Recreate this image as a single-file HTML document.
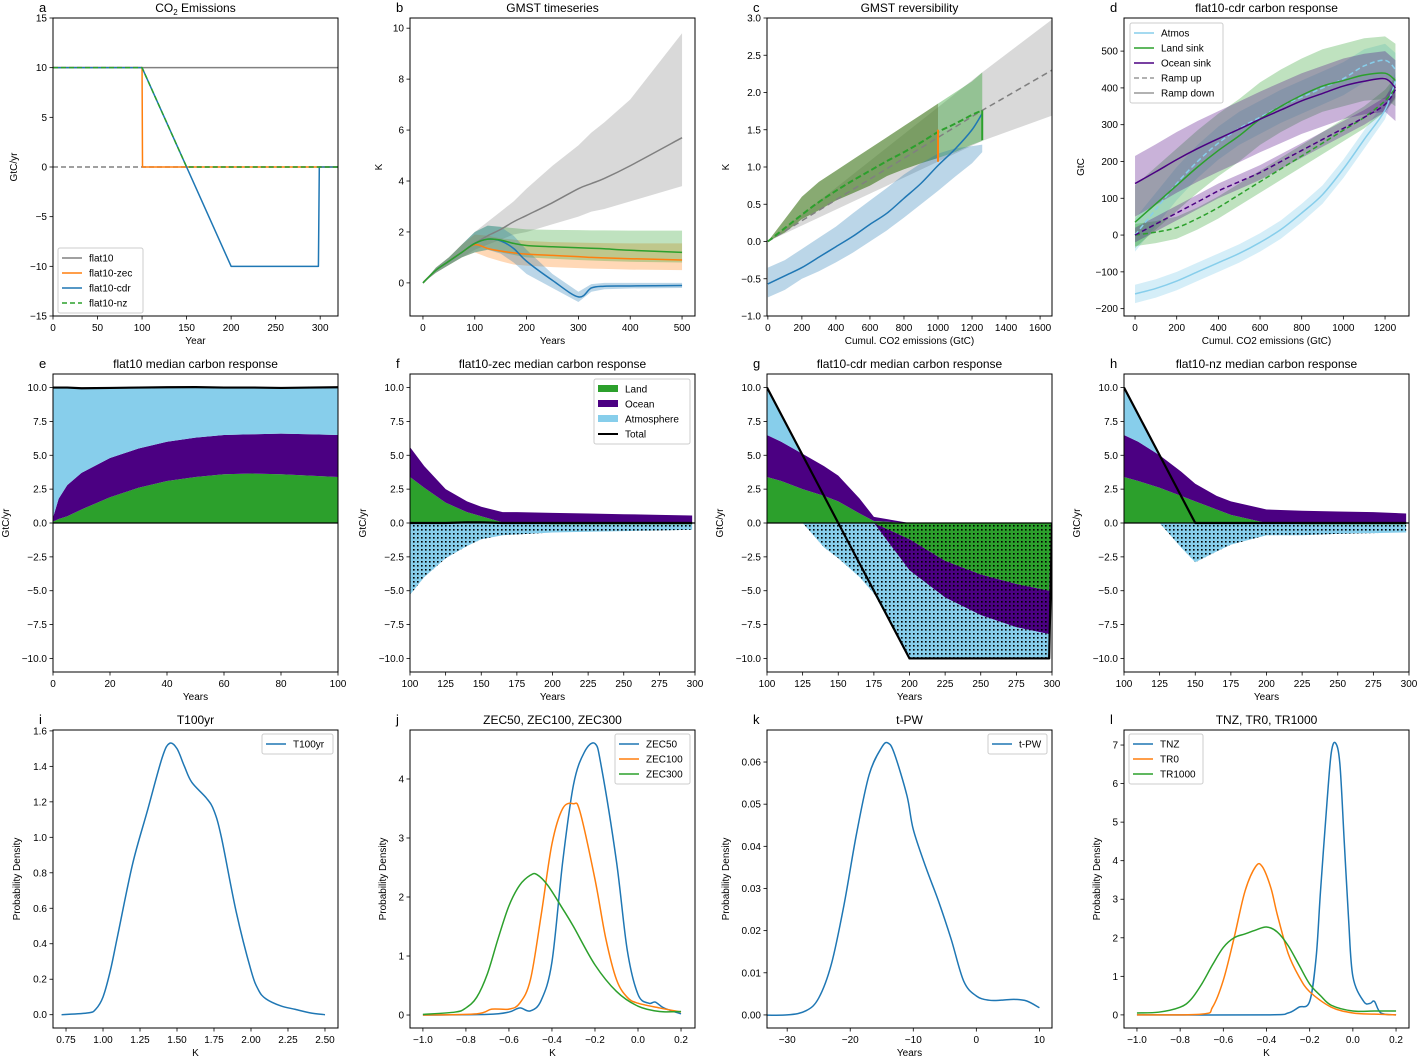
<!DOCTYPE html>
<html><head><meta charset="utf-8">
<style>
html,body{margin:0;padding:0;background:#fff;}
svg{display:block;font-family:"Liberation Sans","DejaVu Sans",sans-serif;}
</style></head>
<body>
<svg id="fig" width="1419" height="1056" viewBox="0 0 1419 1056" xmlns="http://www.w3.org/2000/svg">
<defs>
<pattern id="dots" width="4" height="4" patternUnits="userSpaceOnUse">
<rect x="1" y="1" width="1.6" height="1.6" fill="#000"/>
</pattern>
</defs>
</svg>
<script>
// ---------- data ----------
// a
const aZecX=[0,100,100.5,320], aZecY=[10,10,0,0];
const aCdrX=[0,100,200,298,299,320], aCdrY=[10,10,-10,-10,0,0];
const aNzX=[0,100,150,320], aNzY=[10,10,0,0];
const aFlatX=[0,320], aFlatY=[10,10];
// b
const bYears=[0,25,50,75,100,125,150,175,200,250,300,325,350,400,500];
const bFlatMed=[0,0.5,0.85,1.2,1.55,1.85,2.1,2.4,2.65,3.15,3.7,3.9,4.1,4.6,5.7];
const bFlatHi=[0,0.6,1.0,1.5,2.0,2.4,2.8,3.2,3.7,4.6,5.4,5.9,6.3,7.2,9.8];
const bFlatLo=[0,0.4,0.7,1.0,1.3,1.5,1.7,1.9,2.0,2.3,2.6,2.8,2.9,3.2,3.8];
const bZecMed=[0,0.5,0.85,1.2,1.5,1.35,1.25,1.18,1.13,1.08,1.03,1.0,0.98,0.95,0.9];
const bZecHi=[0,0.6,1.0,1.5,1.9,1.85,1.75,1.7,1.65,1.6,1.58,1.57,1.56,1.55,1.55];
const bZecLo=[0,0.4,0.7,1.0,1.2,1.0,0.85,0.72,0.68,0.62,0.58,0.56,0.55,0.52,0.5];
const bNzMed=[0,0.5,0.85,1.2,1.55,1.72,1.68,1.55,1.47,1.42,1.38,1.36,1.34,1.28,1.2];
const bNzHi=[0,0.6,1.0,1.5,2.0,2.25,2.2,2.15,2.1,2.08,2.07,2.06,2.06,2.05,2.05];
const bNzLo=[0,0.4,0.7,1.0,1.2,1.3,1.2,1.1,1.0,0.95,0.9,0.88,0.86,0.83,0.8];
const bCdrMed=[0,0.5,0.85,1.2,1.55,1.72,1.65,1.35,0.85,0.1,-0.55,-0.2,-0.13,-0.12,-0.1];
const bCdrHi=[0,0.6,1.0,1.5,2.0,2.25,2.2,1.85,1.3,0.35,-0.35,-0.05,0,0,0];
const bCdrLo=[0,0.4,0.7,1.0,1.2,1.3,1.15,0.8,0.35,-0.2,-0.75,-0.35,-0.25,-0.22,-0.2];
// c
const cUpX=[0,100,200,300,400,500,600,700,800,900,1000,1100,1200,1260];
const cUpMed=[0,0.18,0.36,0.53,0.68,0.82,0.95,1.08,1.2,1.33,1.47,1.58,1.7,1.76];
const cUpHi=[0,0.3,0.6,0.8,0.95,1.1,1.25,1.4,1.55,1.7,1.85,2.0,2.15,2.27];
const cUpLo=[0,0.12,0.3,0.42,0.55,0.65,0.75,0.88,0.97,1.05,1.12,1.2,1.3,1.35];
const cFlatX=[0,1260,1670], cFlatMed=[0,1.76,2.3], cFlatHi=[0,2.27,2.98], cFlatLo=[0,1.35,1.69];
const cDnX=[0,100,200,300,400,500,600,700,800,900,1000,1100,1200,1260];
const cDnMed=[-0.57,-0.46,-0.35,-0.21,-0.07,0.07,0.23,0.38,0.58,0.78,1.02,1.24,1.5,1.72];
const cDnHi=[-0.35,-0.25,-0.1,0.05,0.2,0.38,0.55,0.72,0.9,1.05,1.18,1.25,1.28,1.3];
const cDnLo=[-0.75,-0.65,-0.5,-0.4,-0.28,-0.15,0.0,0.15,0.32,0.5,0.68,0.87,1.05,1.2];
const cZecX=[1000,1000], cZecY=[1.5,1.07];
const cNzX=[1260,1260], cNzY=[1.76,1.36];
// d
const dUpX=[0,100,200,300,400,500,600,700,800,900,1000,1100,1200,1250];
const dAtmUp=[0,70,140,200,250,290,320,350,375,400,425,460,475,450];
const dLandUp=[0,8,20,45,75,110,145,180,215,250,285,320,365,400];
const dOceanUp=[0,30,60,90,120,145,170,200,230,260,290,320,355,395];
const dDnX=[0,100,200,300,400,500,600,700,800,900,1000,1100,1200,1250];
const dAtmDn=[-160,-145,-125,-100,-75,-50,-20,15,60,110,180,260,340,420];
const dLandDn=[35,85,135,185,230,270,315,350,380,405,420,435,440,420];
const dOceanDn=[140,172,205,235,262,288,315,340,365,385,405,418,425,400];
// e-h stacked
const eX=[0,2,5,10,20,30,40,50,60,70,80,90,100];
const eLand=[0.1,0.3,0.5,1.0,1.9,2.6,3.1,3.4,3.6,3.65,3.6,3.5,3.4];
const eOcean=[0.3,1.5,2.3,2.7,2.9,2.9,2.9,2.9,2.9,2.9,3.0,3.05,3.1];
const eAtm=[9.6,8.2,7.2,6.3,5.2,4.5,4.0,3.7,3.5,3.45,3.4,3.45,3.5];
const eTot=[10,10,10,9.95,9.97,10,10.02,10.03,10,10,9.97,10,10.02];
const fghX=[100,110,125,140,150,165,175,200,225,250,275,298];
const fLand=[3.4,2.6,1.5,0.8,0.5,0.05,-0.05,-0.1,-0.1,-0.1,-0.1,-0.1];
const fOcean=[2.2,1.6,1.0,0.8,0.7,0.75,0.8,0.75,0.7,0.65,0.6,0.55];
const fAtm=[-5.3,-4.0,-2.6,-1.7,-1.2,-0.9,-0.8,-0.6,-0.55,-0.5,-0.45,-0.4];
const fTot=[0,0,0,0.05,0.05,0,0,0,0,0,0,0];
const gX=[100,110,125,140,150,165,175,200,225,250,275,298,300];
const gLand=[3.4,3.1,2.5,2.0,1.6,0.7,0.15,-1.2,-2.8,-3.8,-4.5,-5.0,0];
const gOcean=[3.1,2.9,2.6,2.2,1.9,1.1,0.3,-2.3,-2.7,-3.0,-3.2,-3.2,0];
const gAtm=[3.5,2.0,0,-1.8,-2.6,-4.0,-5.2,-6.5,-4.5,-3.2,-2.3,-1.8,0];
const gTot=[10,8,5,2,0,-3,-5,-10,-10,-10,-10,-10,0];
const hLand=[3.4,3.1,2.6,2.0,1.6,1.0,0.6,0,-0.1,-0.1,-0.1,-0.1];
const hOcean=[3.1,2.9,2.4,1.8,1.3,1.0,1.0,1.0,0.9,0.85,0.8,0.7];
const hAtm=[3.5,2.0,0,-1.8,-2.9,-2.1,-1.6,-0.9,-0.8,-0.7,-0.65,-0.6];
const hTot=[10,8,5,2,0,0,0,0,0,0,0,0];
// i-l densities
const iX=[0.72,0.9,0.95,1.0,1.05,1.1,1.2,1.3,1.4,1.45,1.5,1.55,1.6,1.7,1.75,1.8,1.9,2.0,2.05,2.1,2.2,2.3,2.4,2.5];
const iY=[0,0.01,0.03,0.1,0.25,0.45,0.85,1.15,1.45,1.53,1.5,1.4,1.31,1.22,1.15,1.0,0.58,0.25,0.14,0.09,0.05,0.03,0.01,0.0];
const j50X=[-1,-0.7,-0.6,-0.55,-0.5,-0.45,-0.4,-0.35,-0.3,-0.25,-0.2,-0.17,-0.1,-0.05,0,0.05,0.08,0.12,0.2];
const j50Y=[0,0.01,0.05,0.12,0.07,0.25,0.9,2.6,3.9,4.45,4.6,4.2,2.6,1.1,0.35,0.2,0.22,0.12,0.02];
const j100X=[-1,-0.75,-0.68,-0.6,-0.55,-0.5,-0.45,-0.4,-0.35,-0.3,-0.27,-0.2,-0.15,-0.1,-0.05,0,0.1,0.2];
const j100Y=[0,0.02,0.1,0.1,0.2,0.6,1.7,2.9,3.5,3.58,3.45,2.3,1.3,0.6,0.3,0.2,0.12,0.05];
const j300X=[-1,-0.85,-0.8,-0.75,-0.7,-0.65,-0.6,-0.55,-0.5,-0.47,-0.42,-0.35,-0.3,-0.2,-0.1,0,0.1,0.2];
const j300Y=[0.01,0.05,0.12,0.3,0.7,1.3,1.85,2.2,2.37,2.38,2.2,1.8,1.5,0.85,0.4,0.15,0.06,0.06];
const kX=[-35,-30,-27,-25,-23,-21,-19,-17,-15,-14,-13,-11,-10,-8,-6,-4,-2,0,2,4,6,8,10];
const kY=[0,0,0.001,0.004,0.012,0.026,0.043,0.057,0.0635,0.0645,0.062,0.052,0.044,0.035,0.027,0.018,0.008,0.0045,0.0035,0.0035,0.0037,0.0033,0.0017];
const lNzX=[-1,-0.4,-0.3,-0.25,-0.2,-0.17,-0.15,-0.12,-0.1,-0.08,-0.06,-0.04,-0.02,0,0.05,0.08,0.1,0.13,0.2];
const lNzY=[0,0,0.05,0.2,0.35,1.5,3.2,5.5,6.8,7.05,6.5,4.5,2.5,1.0,0.35,0.3,0.35,0.05,0];
const lR0X=[-1,-0.7,-0.65,-0.6,-0.55,-0.5,-0.45,-0.42,-0.38,-0.35,-0.3,-0.25,-0.2,-0.1,0,0.1,0.2];
const lR0Y=[0,0.02,0.2,0.9,2.0,3.2,3.85,3.85,3.3,2.6,1.6,1.0,0.6,0.2,0.05,0.02,0];
const lR1X=[-1,-0.9,-0.8,-0.75,-0.7,-0.65,-0.6,-0.55,-0.5,-0.45,-0.4,-0.35,-0.3,-0.25,-0.2,-0.15,-0.1,0,0.1,0.2];
const lR1Y=[0.05,0.07,0.2,0.4,0.8,1.3,1.75,2.0,2.1,2.2,2.28,2.15,1.8,1.3,0.8,0.5,0.25,0.1,0.1,0.1];

// ---------- helpers ----------
const NS='http://www.w3.org/2000/svg';
const fig=document.getElementById('fig');
function mk(tag,name,parent,attrs){
  const e=document.createElementNS(NS,tag);
  
  
  for(const k in attrs) e.setAttribute(k,attrs[k]);
  (parent||fig).appendChild(e);
  return e;
}
const C0='#1f77b4',C1='#ff7f0e',C2='#2ca02c',IND='#4b0082',SKY='#87ceeb',GR='#808080';
function fmt(v,d){const s=Math.abs(v).toFixed(d);return (v<-1e-9?'\u2212':'')+s;}
function smoothPath(pts){
  let d='M'+pts[0][0].toFixed(2)+','+pts[0][1].toFixed(2);
  for(let i=0;i<pts.length-1;i++){
    const p0=pts[Math.max(i-1,0)],p1=pts[i],p2=pts[i+1],p3=pts[Math.min(i+2,pts.length-1)];
    const t=1/6;
    const c1=[p1[0]+(p2[0]-p0[0])*t,p1[1]+(p2[1]-p0[1])*t];
    const c2=[p2[0]-(p3[0]-p1[0])*t,p2[1]-(p3[1]-p1[1])*t];
    d+='C'+c1.map(v=>v.toFixed(2)).join(',')+' '+c2.map(v=>v.toFixed(2)).join(',')+' '+p2[0].toFixed(2)+','+p2[1].toFixed(2);
  }
  return d;
}
function panel(o){
  const W=285,H=298;
  const x=v=>o.x0+(v-o.xd[0])/(o.xd[1]-o.xd[0])*W;
  const y=v=>o.y0+H-(v-o.yd[0])/(o.yd[1]-o.yd[0])*H;
  const g=mk('g','panel-'+o.id,fig,{});
  const clipId='clip-'+o.id;
  const cp=mk('clipPath','clip-'+o.id,g,{id:clipId});
  mk('rect','clip-rect',cp,{x:o.x0,y:o.y0,width:W,height:H});
  const plot=mk('g','plot-area-'+o.id,g,{'clip-path':'url(#'+clipId+')'});
  const P={x,y,g,plot,o};
  P.finish=function(){
    mk('rect','axes-frame',g,{x:o.x0,y:o.y0,width:W,height:H,fill:'none',stroke:'#000','stroke-width':1});
    o.xt.forEach(v=>{const px=x(v);
      mk('line','x-tick',g,{x1:px,x2:px,y1:o.y0+H,y2:o.y0+H+3.5,stroke:'#000','stroke-width':0.8});
      const t=mk('text','x-tick-label',g,{x:px,y:o.y0+H+15,'font-size':10,'text-anchor':'middle',fill:'#000'});t.textContent=fmt(v,o.xdp||0);});
    o.yt.forEach(v=>{const py=y(v);
      mk('line','y-tick',g,{x1:o.x0-3.5,x2:o.x0,y1:py,y2:py,stroke:'#000','stroke-width':0.8});
      const t=mk('text','y-tick-label',g,{x:o.x0-6,y:py+3.5,'font-size':10,'text-anchor':'end',fill:'#000'});t.textContent=fmt(v,o.ydp||0);});
    if(o.xl){const t=mk('text','x-axis-title',g,{x:o.x0+W/2,y:o.y0+H+28,'font-size':10,'text-anchor':'middle'});t.textContent=o.xl;}
    if(o.yl){const t=mk('text','y-axis-title',g,{x:0,y:0,'font-size':10,'text-anchor':'middle',transform:`translate(${o.x0-o.ylo},${o.y0+H/2}) rotate(-90)`});t.textContent=o.yl;}
    const tt=mk('text','panel-title',g,{x:o.x0+W/2,y:o.y0-6,'font-size':12,'text-anchor':'middle'});
    if(o.titleHTML){tt.innerHTML=o.titleHTML;}else tt.textContent=o.title;
    const lt=mk('text','panel-letter',g,{x:o.x0-14,y:o.y0-6,'font-size':13});lt.textContent=o.id;
  };
  P.line=function(xs,ys,color,name,w,dash,smooth){
    const pts=xs.map((v,i)=>[x(v),y(ys[i])]);
    const d=smooth?smoothPath(pts):pts.map((p,i)=>(i?'L':'M')+p[0].toFixed(2)+','+p[1].toFixed(2)).join('');
    const a={d,fill:'none',stroke:color,'stroke-width':w||1.5,'stroke-linejoin':'round'};
    if(dash)a['stroke-dasharray']=dash;
    return mk('path',name,plot,a);
  };
  P.band=function(xs,lo,hi,color,op,name){
    let d=xs.map((v,i)=>(i?'L':'M')+x(v).toFixed(2)+','+y(hi[i]).toFixed(2)).join('');
    for(let i=xs.length-1;i>=0;i--)d+='L'+x(xs[i]).toFixed(2)+','+y(lo[i]).toFixed(2);
    return mk('path',name,plot,{d:d+'Z',fill:color,'fill-opacity':op,stroke:'none'});
  };
  P.legend=function(bx,by,bw,items){
    const lg=mk('g','legend',g,{});
    mk('rect','legend-box',lg,{x:bx,y:by,width:bw,height:items.length*15+5,rx:2,fill:'#fff','fill-opacity':0.8,stroke:'#ccc'});
    items.forEach((it,i)=>{const cy=by+10+i*15;
      const eg=mk('g','legend-entry',lg,{});
      if(it.patch) mk('rect','legend-swatch',eg,{x:bx+4,y:cy-4,width:20,height:7,fill:it.c});
      else mk('line','legend-swatch',eg,{x1:bx+4,x2:bx+24,y1:cy,y2:cy,stroke:it.c,'stroke-width':it.w||1.5,'stroke-dasharray':it.dash||'none'});
      const t=mk('text','legend-label',eg,{x:bx+31,y:cy+3.5,'font-size':10});t.textContent=it.t;});
  };
  return P;
}
function rng(a,b,s){const r=[];for(let v=a;v<=b+1e-9;v+=s)r.push(+v.toFixed(6));return r;}
const COLX=[53,410,767,1124], ROWY=[18,374,730];

// ---------- a ----------
let P=panel({id:'a',x0:COLX[0],y0:ROWY[0],xd:[0,320],yd:[-15,15],xt:rng(0,300,50),yt:rng(-15,15,5),xl:'Year',yl:'GtC/yr',ylo:36,titleHTML:'CO<tspan font-size="8" dy="3">2</tspan><tspan dy="-3"> Emissions</tspan>'});
P.line([0,320],[0,0],GR,'zero-line',1.5,'5,3');
P.line(aFlatX,aFlatY,GR,'line-flat10',1.5);
P.line(aZecX,aZecY,C1,'line-flat10-zec',1.5);
P.line(aCdrX,aCdrY,C0,'line-flat10-cdr',1.5);
P.line(aNzX,aNzY,C2,'line-flat10-nz',1.5,'5,3');
P.legend(58,248,85,[{t:'flat10',c:GR},{t:'flat10-zec',c:C1},{t:'flat10-cdr',c:C0},{t:'flat10-nz',c:C2,dash:'5,3'}]);
P.finish();

// ---------- b ----------
P=panel({id:'b',x0:COLX[1],y0:ROWY[0],xd:[-25,525],yd:[-1.3,10.4],xt:rng(0,500,100),yt:rng(0,10,2),xl:'Years',yl:'K',ylo:28,title:'GMST timeseries'});
P.band(bYears,bFlatLo,bFlatHi,GR,0.3,'band-flat10');
P.band(bYears,bZecLo,bZecHi,C1,0.3,'band-zec');
P.band(bYears,bNzLo,bNzHi,C2,0.3,'band-nz');
P.band(bYears,bCdrLo,bCdrHi,C0,0.3,'band-cdr');
P.line(bYears,bFlatMed,GR,'line-flat10',1.5,null,true);
P.line(bYears,bZecMed,C1,'line-zec',1.5,null,true);
P.line(bYears,bCdrMed,C0,'line-cdr',1.5,null,true);
P.line(bYears,bNzMed,C2,'line-nz',1.5,null,true);
P.finish();

// ---------- c ----------
P=panel({id:'c',x0:COLX[2],y0:ROWY[0],xd:[-5,1670],yd:[-1,3],xt:rng(0,1600,200),yt:rng(-1,3,0.5),ydp:1,xl:'Cumul. CO2 emissions (GtC)',yl:'K',ylo:38,title:'GMST reversibility'});
P.band(cFlatX,cFlatLo,cFlatHi,GR,0.3,'band-flat10');
P.band(cUpX.slice(0,11),cUpLo.slice(0,11),cUpHi.slice(0,11),C1,0.2,'band-zec');
P.band(cUpX,cUpLo,cUpHi,C2,0.4,'band-nz');
P.band(cUpX.slice(0,11),cUpLo.slice(0,11),cUpHi.slice(0,11),'#1f4f1f',0.25,'band-overlap');
P.band(cDnX,cDnLo,cDnHi,C0,0.3,'band-cdr');
P.line(cFlatX,cFlatMed,GR,'line-flat10',1.5,'6,4');
P.line(cUpX,cUpMed,C2,'line-ramp-up',2,'6,3',true);
P.line(cDnX,cDnMed,C0,'line-cdr',1.5,null,true);
P.line(cZecX,cZecY,C1,'line-zec-drop',2);
P.line(cNzX,cNzY,C2,'line-nz-drop',2);
P.finish();

// ---------- d ----------
P=panel({id:'d',x0:COLX[3],y0:ROWY[0],xd:[-53,1315],yd:[-220,590],xt:rng(0,1200,200),yt:rng(-200,500,100),xl:'Cumul. CO2 emissions (GtC)',yl:'GtC',ylo:40,title:'flat10-cdr carbon response'});
const off=(a,d)=>a.map(v=>v+d);
P.band(dDnX,off(dAtmDn,-25),off(dAtmDn,25),SKY,0.35,'band-atmos-down');
P.band(dUpX,off(dAtmUp,-45),off(dAtmUp,45),SKY,0.35,'band-atmos-up');
P.band(dDnX,off(dLandDn,-70),off(dLandDn,100),C2,0.3,'band-land-down');
P.band(dUpX,off(dLandUp,-30),off(dLandUp,30),C2,0.3,'band-land-up');
P.band(dDnX,off(dOceanDn,-90),off(dOceanDn,75),IND,0.3,'band-ocean-down');
P.band(dUpX,off(dOceanUp,-20),off(dOceanUp,20),IND,0.3,'band-ocean-up');
P.line(dUpX,dAtmUp,SKY,'line-atmos-up',1.5,'5,3',true);
P.line(dDnX,dAtmDn,SKY,'line-atmos-down',1.5,null,true);
P.line(dUpX,dLandUp,C2,'line-land-up',1.5,'5,3',true);
P.line(dDnX,dLandDn,C2,'line-land-down',1.5,null,true);
P.line(dUpX,dOceanUp,IND,'line-ocean-up',1.5,'5,3',true);
P.line(dDnX,dOceanDn,IND,'line-ocean-down',1.5,null,true);
P.legend(1130,23,93,[{t:'Atmos',c:SKY},{t:'Land sink',c:C2},{t:'Ocean sink',c:IND},{t:'Ramp up',c:'#999',dash:'5,3'},{t:'Ramp down',c:'#999'}]);
P.finish();

// ---------- e-h ----------
function stack(P,xs,land,ocean,atm,tot){
  const comps=[[land,C2,'land'],[ocean,IND,'ocean'],[atm,SKY,'atmosphere']];
  const pb=xs.map(()=>0), nb=xs.map(()=>0);
  comps.forEach(([v,c,n])=>{
    const pTop=v.map((a,i)=>pb[i]+Math.max(a,0));
    const nBot=v.map((a,i)=>nb[i]+Math.min(a,0));
    P.band(xs,pb.slice(),pTop,c,1,'area-'+n+'-positive');
    P.band(xs,nBot,nb.slice(),c,1,'area-'+n+'-negative');
    P.band(xs,nBot,nb.slice(),'url(#dots)',1,'hatch-'+n+'-negative');
    for(let i=0;i<xs.length;i++){pb[i]=pTop[i];nb[i]=nBot[i];}
  });
  P.line([P.o.xd[0],P.o.xd[1]],[0,0],'#000','zero-line',1.3);
  P.line(xs,tot,'#000','line-total',2.2);
}
const rowOpts={yd:[-11,11],yt:rng(-10,10,2.5),ydp:1,xl:'Years',yl:'GtC/yr',ylo:44};
P=panel(Object.assign({id:'e',x0:COLX[0],y0:ROWY[1],xd:[0,100],xt:rng(0,100,20),title:'flat10 median carbon response'},rowOpts));
stack(P,eX,eLand,eOcean,eAtm,eTot);P.finish();
P=panel(Object.assign({id:'f',x0:COLX[1],y0:ROWY[1],xd:[100,300],xt:rng(100,300,25),title:'flat10-zec median carbon response'},rowOpts));
stack(P,fghX,fLand,fOcean,fAtm,fTot);
P.legend(594,379,96,[{t:'Land',c:C2,patch:1},{t:'Ocean',c:IND,patch:1},{t:'Atmosphere',c:SKY,patch:1},{t:'Total',c:'#000',w:2}]);
P.finish();
P=panel(Object.assign({id:'g',x0:COLX[2],y0:ROWY[1],xd:[100,300],xt:rng(100,300,25),title:'flat10-cdr median carbon response'},rowOpts));
stack(P,gX,gLand,gOcean,gAtm,gTot);P.finish();
P=panel(Object.assign({id:'h',x0:COLX[3],y0:ROWY[1],xd:[100,300],xt:rng(100,300,25),title:'flat10-nz median carbon response'},rowOpts));
stack(P,fghX,hLand,hOcean,hAtm,hTot);P.finish();

// ---------- i-l ----------
P=panel({id:'i',x0:COLX[0],y0:ROWY[2],xd:[0.662,2.588],yd:[-0.075,1.605],xt:rng(0.75,2.5,0.25),xdp:2,yt:rng(0,1.6,0.2),ydp:1,xl:'K',yl:'Probability Density',ylo:33,title:'T100yr'});
P.line(iX,iY,C0,'line-t100yr',1.5,null,true);
P.legend(262,734,71,[{t:'T100yr',c:C0}]);P.finish();
P=panel({id:'j',x0:COLX[1],y0:ROWY[2],xd:[-1.06,0.265],yd:[-0.22,4.83],xt:rng(-1,0.2,0.2),xdp:1,yt:rng(0,4,1),xl:'K',yl:'Probability Density',ylo:24,title:'ZEC50, ZEC100, ZEC300'});
P.line(j50X,j50Y,C0,'line-zec50',1.5,null,true);P.line(j100X,j100Y,C1,'line-zec100',1.5,null,true);P.line(j300X,j300Y,C2,'line-zec300',1.5,null,true);
P.legend(615,734,75,[{t:'ZEC50',c:C0},{t:'ZEC100',c:C1},{t:'ZEC300',c:C2}]);P.finish();
P=panel({id:'k',x0:COLX[2],y0:ROWY[2],xd:[-33.2,12],yd:[-0.0031,0.0676],xt:rng(-30,10,10),yt:rng(0,0.06,0.01),ydp:2,xl:'Years',yl:'Probability Density',ylo:38,title:'t-PW'});
P.line(kX,kY,C0,'line-t-pw',1.5,null,true);
P.legend(988,734,59,[{t:'t-PW',c:C0}]);P.finish();
P=panel({id:'l',x0:COLX[3],y0:ROWY[2],xd:[-1.06,0.26],yd:[-0.34,7.39],xt:rng(-1,0.2,0.2),xdp:1,yt:rng(0,7,1),xl:'K',yl:'Probability Density',ylo:24,title:'TNZ, TR0, TR1000'});
P.line(lNzX,lNzY,C0,'line-tnz',1.5,null,true);P.line(lR0X,lR0Y,C1,'line-tr0',1.5,null,true);P.line(lR1X,lR1Y,C2,'line-tr1000',1.5,null,true);
P.legend(1129,734,74,[{t:'TNZ',c:C0},{t:'TR0',c:C1},{t:'TR1000',c:C2}]);P.finish();
</script>
</body></html>
